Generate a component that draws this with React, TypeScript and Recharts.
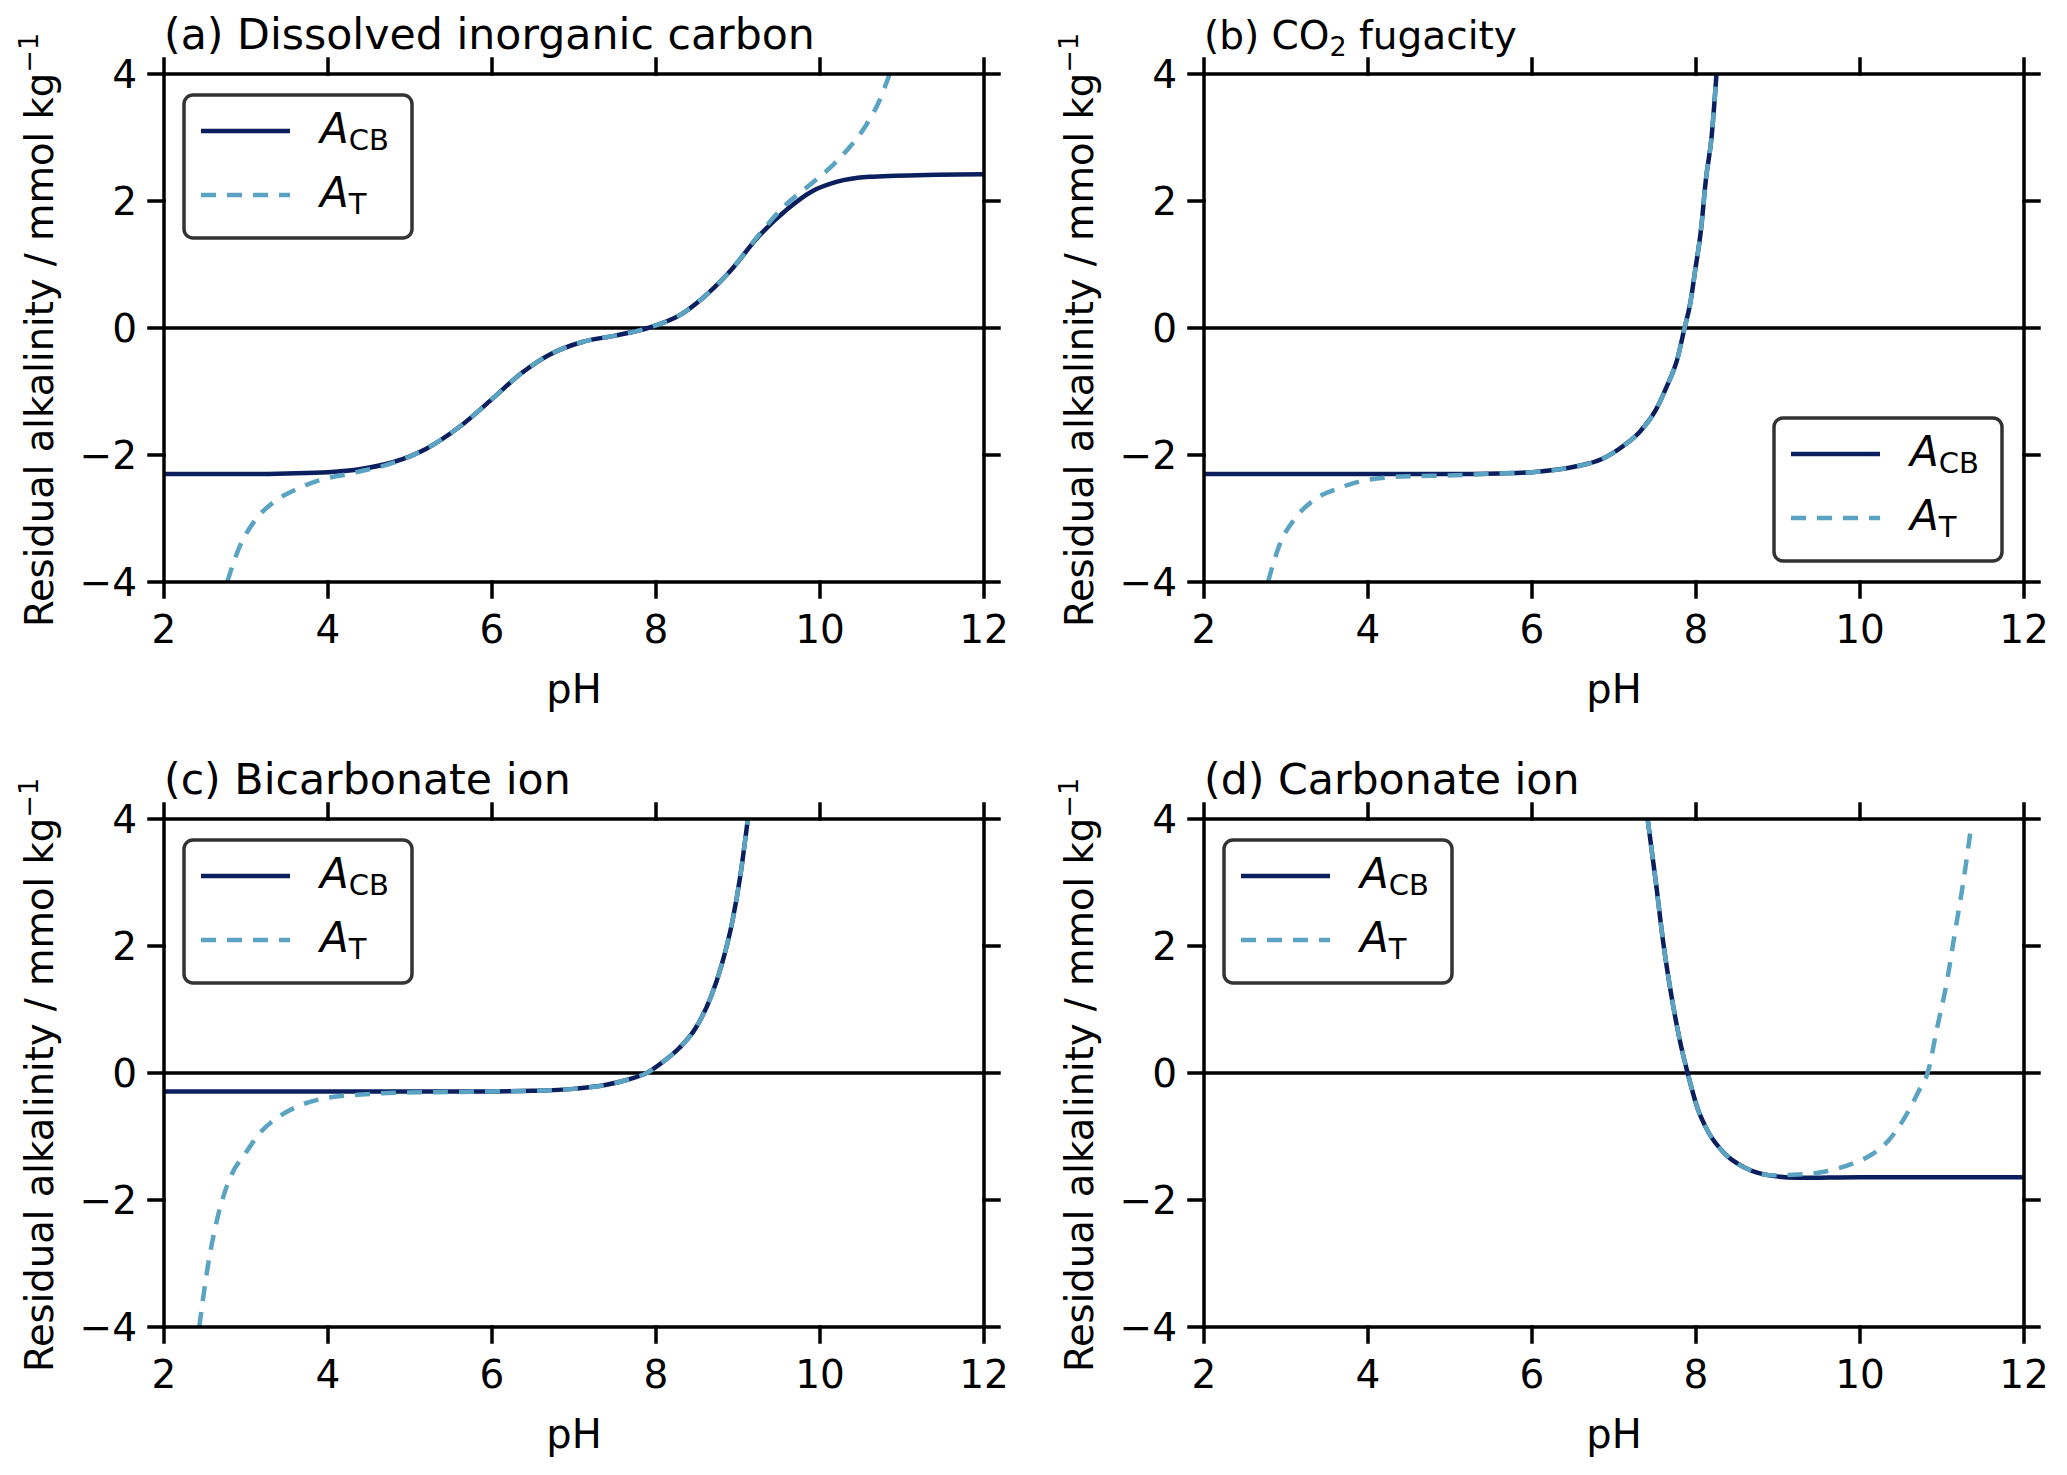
import React from "react";
import { LineChart, Line, XAxis, YAxis, ReferenceLine } from "recharts";

// (a) Dissolved inorganic carbon
const dicCbPh = [2, 3, 3.5, 4, 4.4, 4.8, 5.2, 5.6, 6.0, 6.35, 6.7, 7.1, 7.5, 7.9, 8.3, 8.55, 8.9, 9.25, 9.6, 9.9, 10.2, 10.6, 11.3, 12];
const dicCb = [-2.3, -2.3, -2.29, -2.27, -2.22, -2.11, -1.9, -1.56, -1.12, -0.72, -0.42, -0.22, -0.12, 0.0, 0.21, 0.45, 0.89, 1.44, 1.87, 2.15, 2.3, 2.38, 2.41, 2.42];
const dicTPh = [2.77, 2.92, 3.11, 3.34, 3.63, 3.89, 4.28, 4.8, 5.2, 5.6, 6.0, 6.35, 6.7, 7.1, 7.5, 7.9, 8.3, 8.55, 8.9, 9.25, 9.58, 9.9, 10.16, 10.35, 10.55, 10.71, 10.85];
const dicT = [-4.0, -3.45, -3.03, -2.74, -2.53, -2.4, -2.29, -2.12, -1.9, -1.56, -1.12, -0.72, -0.42, -0.22, -0.12, 0.0, 0.21, 0.45, 0.89, 1.46, 1.94, 2.28, 2.57, 2.83, 3.17, 3.54, 4.0];

// (b) CO2 fugacity
const fco2CbPh = [2, 4, 5, 5.6, 6.0, 6.5, 6.86, 7.12, 7.31, 7.51, 7.64, 7.77, 7.86, 7.93, 7.99, 8.06, 8.12, 8.19, 8.25];
const fco2Cb = [-2.3, -2.3, -2.3, -2.29, -2.27, -2.19, -2.06, -1.85, -1.64, -1.29, -0.93, -0.5, 0.0, 0.39, 0.91, 1.54, 2.33, 3.01, 4.0];
const fco2TPh = [2.78, 2.92, 3.11, 3.34, 3.63, 3.89, 4.4, 5.05, 5.6, 6.0, 6.5, 6.86, 7.12, 7.31, 7.51, 7.64, 7.77, 7.86, 7.93, 7.99, 8.06, 8.12, 8.19, 8.25];
const fco2T = [-4.0, -3.42, -3.0, -2.71, -2.53, -2.42, -2.34, -2.32, -2.29, -2.27, -2.19, -2.06, -1.85, -1.64, -1.29, -0.93, -0.5, 0.0, 0.39, 0.91, 1.54, 2.33, 3.01, 4.0];

// (c) Bicarbonate ion
const hco3CbPh = [2, 4, 6, 6.5, 6.99, 7.38, 7.64, 7.9, 8.09, 8.28, 8.48, 8.67, 8.8, 8.93, 9.03, 9.12];
const hco3Cb = [-0.29, -0.29, -0.29, -0.28, -0.25, -0.19, -0.11, 0.01, 0.18, 0.39, 0.7, 1.2, 1.7, 2.38, 3.12, 4.0];
const hco3TPh = [2.43, 2.53, 2.66, 2.82, 2.98, 3.18, 3.4, 3.66, 3.95, 4.4, 4.86, 5.5, 6.0, 6.5, 6.99, 7.38, 7.64, 7.9, 8.09, 8.28, 8.48, 8.67, 8.8, 8.93, 9.03, 9.12];
const hco3T = [-4.0, -3.08, -2.24, -1.61, -1.29, -0.93, -0.69, -0.51, -0.4, -0.34, -0.31, -0.3, -0.29, -0.28, -0.25, -0.19, -0.11, 0.01, 0.18, 0.39, 0.7, 1.2, 1.7, 2.38, 3.12, 4.0];

// (d) Carbonate ion
const co3CbPh = [7.41, 7.51, 7.6, 7.7, 7.8, 7.9, 8.02, 8.15, 8.35, 8.61, 8.93, 9.25, 10, 11, 12];
const co3Cb = [4.0, 3.01, 2.06, 1.22, 0.53, -0.01, -0.56, -0.93, -1.27, -1.5, -1.62, -1.65, -1.64, -1.64, -1.64];
const co3TPh = [7.41, 7.51, 7.6, 7.7, 7.8, 7.9, 8.02, 8.15, 8.35, 8.61, 8.93, 9.25, 9.58, 9.9, 10.16, 10.35, 10.55, 10.71, 10.84, 10.93, 11.06, 11.16, 11.26, 11.35];
const co3T = [4.0, 3.01, 2.06, 1.22, 0.53, -0.01, -0.56, -0.93, -1.27, -1.5, -1.61, -1.6, -1.55, -1.43, -1.27, -1.06, -0.69, -0.3, 0.07, 0.65, 1.44, 2.23, 3.01, 3.83];

const xTicks = [2, 4, 6, 8, 10, 12];
const yTicks = [-4, -2, 0, 2, 4];

const NAVY = "#0b1f5e";
const LIGHT = "#5aa3c2";
const FONT = "DejaVu Sans";

const zip = (xs: number[], ys: number[]) => xs.map((pH, i) => ({ pH, v: ys[i] }));
const fmt = (v: number) => (v < 0 ? "\u2212" + Math.abs(v) : String(v));

const axisStyle = { stroke: "#000", strokeWidth: 3.5, strokeLinecap: "square" as const };
const tickStyle = { fontSize: 39, fill: "#000", fontFamily: FONT };
const noLabel = () => <g />;

// plot area geometry (page px)
const PLOT_L = 164;
const PLOT_T = 74;
const PLOT_W = 820;
const PLOT_H = 508;
const COL = 1040;
const ROW = 745;

type PanelProps = {
  cb: { pH: number; v: number }[];
  t: { pH: number; v: number }[];
  left: number;
  top: number;
};

const Panel = ({ cb, t, left, top }: PanelProps) => (
  <div style={{ position: "absolute", left, top }}>
    <LineChart
      width={COL}
      height={740}
      margin={{ top: PLOT_T - 20, right: COL - PLOT_L - PLOT_W - 20, bottom: 740 - PLOT_T - PLOT_H - 80, left: PLOT_L - 150 }}
      style={{ fontFamily: FONT }}
    >
      <XAxis xAxisId="b" dataKey="pH" type="number" domain={[2, 12]} ticks={xTicks} orientation="bottom" height={80}
        tickSize={15} tickMargin={18} axisLine={axisStyle} tickLine={axisStyle} tick={tickStyle} allowDataOverflow />
      <XAxis xAxisId="t" dataKey="pH" type="number" domain={[2, 12]} ticks={xTicks} orientation="top" height={20}
        tickSize={15} axisLine={axisStyle} tickLine={axisStyle} tick={noLabel} allowDataOverflow />
      <YAxis yAxisId="l" type="number" domain={[-4, 4]} ticks={yTicks} width={150} tickSize={15} tickMargin={12}
        axisLine={axisStyle} tickLine={axisStyle} tick={tickStyle} tickFormatter={fmt} allowDataOverflow />
      <YAxis yAxisId="r" type="number" domain={[-4, 4]} ticks={yTicks} orientation="right" width={20} tickSize={15}
        axisLine={axisStyle} tickLine={axisStyle} tick={noLabel} allowDataOverflow />
      <ReferenceLine xAxisId="b" yAxisId="l" y={0} stroke="#000" strokeWidth={3.5} />
      <Line xAxisId="b" yAxisId="l" data={cb} dataKey="v" type="monotone" stroke={NAVY} strokeWidth={4.5}
        dot={false} activeDot={false} isAnimationActive={false} />
      <Line xAxisId="b" yAxisId="l" data={t} dataKey="v" type="monotone" stroke={LIGHT} strokeWidth={4.5}
        strokeDasharray="15 11" dot={false} activeDot={false} isAnimationActive={false} />
    </LineChart>
  </div>
);

const LegendBox = ({ x, y }: { x: number; y: number }) => (
  <g>
    <rect x={x} y={y} width={228} height={143} rx={9} fill="#fff" stroke="#333" strokeWidth={3.5} />
    <line x1={x + 17} x2={x + 106} y1={y + 36} y2={y + 36} stroke={NAVY} strokeWidth={4.5} />
    <line x1={x + 17} x2={x + 106} y1={y + 100} y2={y + 100} stroke={LIGHT} strokeWidth={4.5} strokeDasharray="15 11" />
    <text x={x + 136} y={y + 48} fontSize={42}>
      <tspan fontStyle="italic">A</tspan>
      <tspan fontSize={29} dy={7}>CB</tspan>
    </text>
    <text x={x + 136} y={y + 112} fontSize={42}>
      <tspan fontStyle="italic">A</tspan>
      <tspan fontSize={29} dy={7}>T</tspan>
    </text>
  </g>
);

const Labels = ({ dx, dy }: { dx: number; dy: number }) => (
  <g transform={`translate(${dx}, ${dy})`}>
    <text transform={`translate(53, ${PLOT_T + PLOT_H / 2 + 2}) rotate(-90)`} textAnchor="middle" fontSize={38.5}>
      Residual alkalinity / mmol kg
      <tspan fontSize={27} dy={-15}>{"\u22121"}</tspan>
    </text>
    <text x={PLOT_L + PLOT_W / 2} y={703} textAnchor="middle" fontSize={40}>pH</text>
  </g>
);

export default function App() {
  return (
    <div style={{ position: "absolute", left: 0, top: 0, width: 2067, height: 1475, background: "#fff", overflow: "hidden" }}>
      <Panel cb={zip(dicCbPh, dicCb)} t={zip(dicTPh, dicT)} left={0} top={0} />
      <Panel cb={zip(fco2CbPh, fco2Cb)} t={zip(fco2TPh, fco2T)} left={COL} top={0} />
      <Panel cb={zip(hco3CbPh, hco3Cb)} t={zip(hco3TPh, hco3T)} left={0} top={ROW} />
      <Panel cb={zip(co3CbPh, co3Cb)} t={zip(co3TPh, co3T)} left={COL} top={ROW} />
      <svg width={2067} height={1475} style={{ position: "absolute", left: 0, top: 0, pointerEvents: "none" }}
        fontFamily={FONT} fill="#000">
        <Labels dx={0} dy={0} />
        <Labels dx={COL} dy={0} />
        <Labels dx={0} dy={ROW} />
        <Labels dx={COL} dy={ROW} />
        <text x={PLOT_L} y={49} fontSize={42.7}>(a) Dissolved inorganic carbon</text>
        <text x={COL + PLOT_L} y={49} fontSize={39}>
          (b) CO<tspan fontSize={27} dy={7}>2</tspan>
          <tspan dy={-7}> fugacity</tspan>
        </text>
        <text x={PLOT_L} y={ROW + 49} fontSize={42.7}>(c) Bicarbonate ion</text>
        <text x={COL + PLOT_L} y={ROW + 49} fontSize={42.7}>(d) Carbonate ion</text>
        <LegendBox x={PLOT_L + 20} y={PLOT_T + 21} />
        <LegendBox x={COL + PLOT_L + 570} y={PLOT_T + 344} />
        <LegendBox x={PLOT_L + 20} y={ROW + PLOT_T + 21} />
        <LegendBox x={COL + PLOT_L + 20} y={ROW + PLOT_T + 21} />
      </svg>
    </div>
  );
}
